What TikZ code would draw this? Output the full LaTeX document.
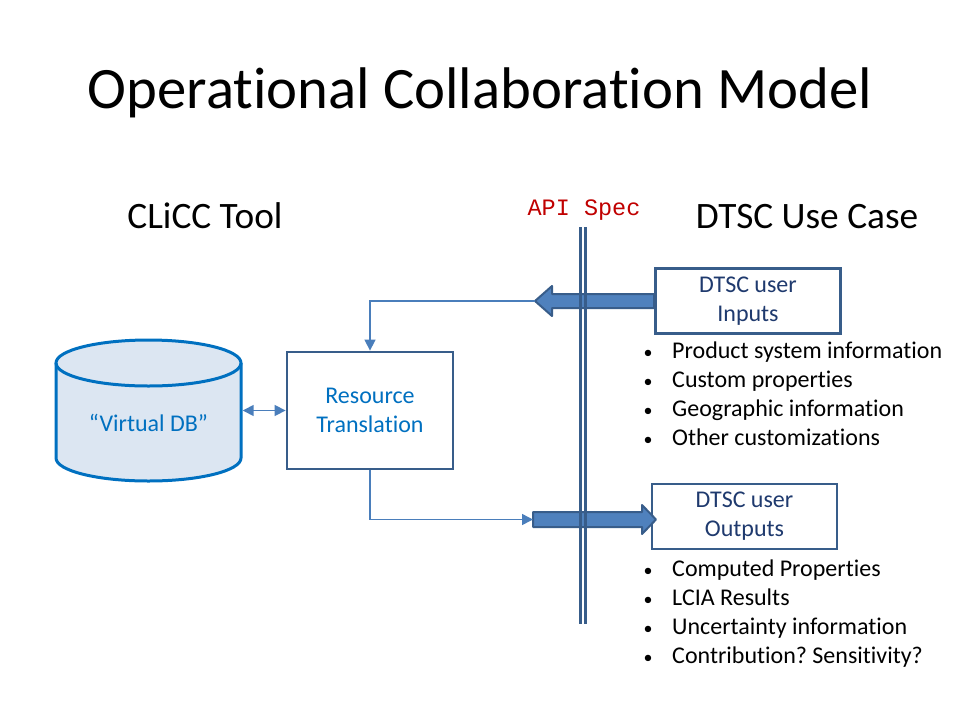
\documentclass[tikz,border=0pt]{standalone}
\usepackage{fontspec}
\setmainfont{Carlito}[Ligatures=NoCommon]
\newfontfamily\monof{Liberation Mono}
\usetikzlibrary{arrows.meta}
\frenchspacing
\definecolor{dbblue}{HTML}{0070C0}
\definecolor{dbfill}{HTML}{DCE6F2}
\definecolor{boxline}{HTML}{385D8A}
\definecolor{arrfill}{HTML}{4F81BD}
\definecolor{connc}{HTML}{4A7EBB}
\definecolor{navy}{HTML}{1F3A6E}
\definecolor{apired}{HTML}{C00000}
\tikzset{
  fs/.style={font=\fontsize{#1}{29}\selectfont},
  box/.style={draw=boxline, line width=2.8pt, fill=white, inner sep=0pt},
  conn/.style={draw=connc, line width=1.5pt},
  tri/.tip={Triangle[length=11pt,width=11pt]},
  tip/.style={-tri},
  blockarrow/.style={fill=arrfill, draw=boxline, line width=2pt, line join=round},
  apiline/.style={draw=boxline, line width=2.8pt},
  bullettext/.style={anchor=base west, inner sep=0pt, font=\fontsize{24}{29}\selectfont},
  bulletdot/.style={anchor=base, inner sep=0pt, font=\fontsize{18}{29}\selectfont},
}
\begin{document}
\begin{tikzpicture}[x=1pt,y=-1pt]
\useasboundingbox (0,0) rectangle (960,720);

% Titles
\node[anchor=base, inner sep=0pt, fs=58.7] (title) at (480,108) {Operational Collaboration Model};
\node[anchor=base, inner sep=0pt, fs=37.3] (clicc) at (205,228) {CLiCC Tool};
\node[anchor=base, inner sep=0pt, fs=37.3] (dtsc) at (807,228) {DTSC Use Case};
\node[anchor=base, inner sep=0pt, text=apired, font=\monof\fontsize{23.5}{28}\selectfont] (api) at (584,215) {API Spec};

% Cylinder "Virtual DB"
\fill[dbfill] (56,363) -- (56,458) arc[start angle=180, end angle=0, x radius=92.5, y radius=23]
  -- (241,363) arc[start angle=0, end angle=-180, x radius=92.5, y radius=23] -- cycle;
\draw[dbblue, line width=3pt] (56,363) -- (56,458) arc[start angle=180, end angle=0, x radius=92.5, y radius=23] -- (241,363);
\draw[dbblue, line width=3pt] (148.5,363) ellipse[x radius=92.5, y radius=23];
\node[inner sep=0pt, minimum width=188pt, minimum height=141pt] (db) at (148.5,410.5) {};
\node[anchor=base, inner sep=0pt, text=dbblue, fs=24] (dbtext) at (148.5,431) {“Virtual DB”};

% Resource Translation box
\node[box, minimum width=166pt, minimum height=117pt, text=dbblue, align=center, fs=24] (rt) at (370,410.5)
  {Resource\\Translation};

% DTSC boxes
\node[box, minimum width=185pt, minimum height=65pt, text=navy, align=center, fs=24] (inb) at (748,301)
  {DTSC user\\Inputs};
\node[box, minimum width=185pt, minimum height=65pt, text=navy, align=center, fs=24] (outb) at (744.5,516.5)
  {DTSC user\\Outputs};

% Block arrows
\coordinate (inTip) at (535,301);
\draw[blockarrow] (inb.west |- 0,294) -- (552,294) -- (552,286) -- (inTip) -- (552,316) -- (552,308)
  -- (inb.west |- 0,308) -- cycle;
\coordinate (outTail) at (533,519.5);
\draw[blockarrow] (outTail |- 0,512) -- (642,512) -- (642,505) -- (656,519.5) -- (642,534) -- (642,527)
  -- (outTail |- 0,527) -- cycle;

% Thin connectors
\draw[conn, tip] (inTip) -| (rt.north);
\draw[conn, tip] (rt.south) |- (outTail);
\draw[conn, tri-tri] (db.east) -- (rt.west);

% API double line
\coordinate (apiTop) at (583,227);
\coordinate (apiBot) at (583,624);
\draw[apiline] ([xshift=-2.8pt]apiTop) -- ([xshift=-2.8pt]apiBot);
\draw[apiline] ([xshift=2.8pt]apiTop) -- ([xshift=2.8pt]apiBot);

% Bullets - inputs
\foreach \y/\t [count=\i] in {358/Product system information, 387/Custom properties, 416/Geographic information, 445/Other customizations}{
  \node[bulletdot] (bd\i) at (648,\y) {•};
  \node[bullettext] (bt\i) at (672,\y) {\t};
}
% Bullets - outputs
\foreach \y/\t [count=\i] in {576/Computed Properties, 605/LCIA Results, 634/Uncertainty information, 663/Contribution? Sensitivity?}{
  \node[bulletdot] (od\i) at (648,\y) {•};
  \node[bullettext] (ot\i) at (672,\y) {\t};
}
\end{tikzpicture}
\end{document}
